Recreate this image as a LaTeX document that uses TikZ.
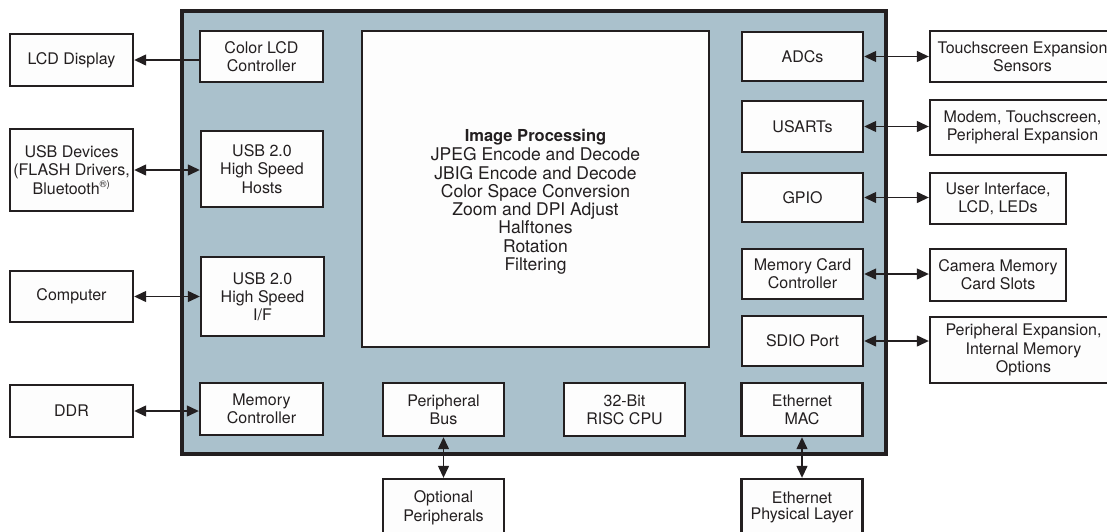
\documentclass[tikz,border=0pt]{standalone}
\usepackage{fontspec}
\setmainfont{TeX Gyre Heros}
\usetikzlibrary{arrows.meta}
\definecolor{chipfill}{HTML}{AAC1CC}
\definecolor{boxfill}{HTML}{FDFDFD}
\definecolor{ink}{HTML}{231F20}
\tikzset{
  blk/.style={draw=ink, line width=2.4pt, fill=boxfill, align=center, inner sep=0pt,
    text=ink, font=\fontsize{16}{18.3}\selectfont},
  link/.style={draw=ink, line width=1.3pt, {Triangle[length=12pt,width=11pt]}-{Triangle[length=12pt,width=11pt]}},
  linkone/.style={draw=ink, line width=1.3pt, -{Triangle[length=12pt,width=11pt]}},
}
\newcommand{\blkat}[6]{\node[blk, minimum width=#4, minimum height=#5] (#1) at (#2,#3) {#6};}
\begin{document}
\begin{tikzpicture}[x=1pt,y=-1pt]
\useasboundingbox (0,0) rectangle (1107,531);
\clip (0,0) rectangle (1107,531);
\fill[white] (0,0) rectangle (1107,531);
% chip outline
\draw[draw=ink, line width=4pt, fill=chipfill] (182,11) rectangle (886,454);
% outer left
\blkat{lcd}{71.5}{60}{123pt}{52pt}{LCD Display}
\blkat{usbdev}{71.5}{170}{123pt}{82pt}{USB Devices\\(FLASH Drivers,\\Bluetooth\textsuperscript{\scalebox{0.85}{®)}}}
\blkat{computer}{71.5}{296.5}{123pt}{51pt}{Computer}
\blkat{ddr}{71.5}{411}{123pt}{52pt}{DDR}
% inner left
\blkat{clcd}{261.5}{56.5}{123pt}{51pt}{Color LCD\\Controller}
\blkat{usbh}{262}{169}{122pt}{76pt}{USB 2.0\\High Speed\\Hosts}
\blkat{usbif}{262.5}{296.5}{123pt}{79pt}{USB 2.0\\High Speed\\I/F}
\blkat{memc}{261.5}{409}{123pt}{52pt}{Memory\\Controller}
% image processing
\node[blk, minimum width=347pt, minimum height=316pt] (img) at (535.5,189) {};
\node[align=center, text=ink, font=\fontsize{17.5}{18.3}\selectfont] (imgtxt) at (535.5,202)
  {{\fontsize{16.5}{19}\selectfont\bfseries Image Processing}\\[0.6pt]
   JPEG Encode and Decode\\JBIG Encode and Decode\\Color Space Conversion\\Zoom and DPI Adjust\\Halftones\\Rotation\\Filtering};
% bottom inner
\blkat{pbus}{443.5}{409.5}{121pt}{53pt}{Peripheral\\Bus}
\blkat{cpu}{624.5}{409.5}{121pt}{53pt}{32-Bit\\RISC CPU}
\node[blk, minimum width=121pt, minimum height=58pt, text depth=0pt] (optp) at (443.5,508) {\raisebox{4pt}{\shortstack{Optional\\[1pt]Peripherals}}};
% inner right
\blkat{adc}{802.5}{56.5}{121pt}{49pt}{ADCs}
\blkat{usart}{802.5}{126.5}{121pt}{51pt}{USARTs}
\blkat{gpio}{802.5}{197.5}{121pt}{49pt}{GPIO}
\blkat{mcc}{802.5}{274}{121pt}{50pt}{Memory Card\\Controller}
\blkat{sdio}{802.5}{341}{121pt}{50pt}{SDIO Port}
\blkat{emac}{802}{409.5}{121pt}{53pt}{Ethernet\\MAC}
\node[blk, minimum width=121pt, minimum height=58pt, text depth=0pt] (ephy) at (802,508) {\raisebox{4pt}{\shortstack{Ethernet\\[1pt]Physical Layer}}};
% outer right
\blkat{ts}{1022.5}{56.5}{185pt}{51pt}{Touchscreen Expansion\\Sensors}
\blkat{modem}{1022.5}{127.5}{185pt}{55pt}{Modem, Touchscreen,\\Peripheral Expansion}
\blkat{ui}{998}{198.5}{136pt}{51pt}{User Interface,\\LCD, LEDs}
\blkat{cam}{998}{275}{136pt}{52pt}{Camera Memory\\Card Slots}
\blkat{pexp}{1023.5}{350}{187pt}{66pt}{Peripheral Expansion,\\Internal Memory\\Options}
% connectors left
\draw[linkone] (lcd.east -| clcd.west) -- (lcd.east);
\draw[link] (usbdev.east) -- (usbdev.east -| usbh.west);
\draw[link] (computer.east) -- (computer.east -| usbif.west);
\draw[link] (ddr.east) -- (ddr.east -| memc.west);
% connectors right
\draw[link] (adc.east) -- (adc.east -| ts.west);
\draw[link] (usart.east) -- (usart.east -| modem.west);
\draw[link] (gpio.east) -- (gpio.east -| ui.west);
\draw[link] (mcc.east) -- (mcc.east -| cam.west);
\draw[link] (sdio.east) -- (sdio.east -| pexp.west);
% connectors bottom
\draw[link] (pbus.south) -- (optp.north);
\draw[link] (emac.south) -- (ephy.north);
\end{tikzpicture}
\end{document}
